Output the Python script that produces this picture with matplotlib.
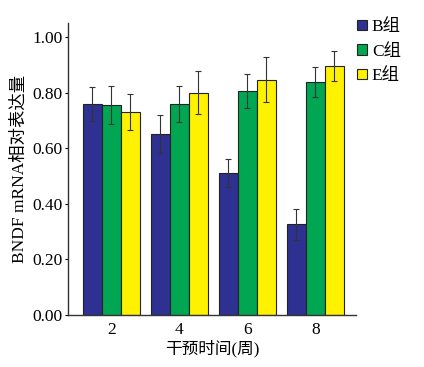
import matplotlib
matplotlib.use("Agg")
import matplotlib.pyplot as plt
import numpy as np
from matplotlib.patches import Patch

plt.rcParams['font.family'] = ['Liberation Serif', 'Noto Sans CJK SC']

weeks = ['2', '4', '6', '8']
groups = ['B组', 'C组', 'E组']
colors = ['#2e3192', '#00a651', '#fff200']
b_vals = [0.759, 0.651, 0.511, 0.326]
c_vals = [0.755, 0.760, 0.805, 0.839]
e_vals = [0.729, 0.800, 0.846, 0.895]
b_err = [0.060, 0.067, 0.051, 0.055]
c_err = [0.068, 0.065, 0.062, 0.054]
e_err = [0.065, 0.077, 0.080, 0.053]

fig = plt.figure(figsize=(4.24, 3.67), dpi=100)
ax = fig.add_axes([68/424, (367-315)/367, (356-68)/424, (315-22.7)/367])

x = np.arange(len(weeks))
w = 0.28
for i, (vals, errs, col) in enumerate(zip([b_vals, c_vals, e_vals], [b_err, c_err, e_err], colors)):
    ax.bar(x + (i-1)*w, vals, w, color=col, edgecolor='#222222', linewidth=0.8,
           yerr=errs, error_kw=dict(ecolor='#333333', elinewidth=0.8, capsize=2.5, capthick=0.8))

ax.set_xlim(-0.64, 3.6)
ax.set_ylim(0, 1.051)
ax.set_xticks(x)
ax.set_xticklabels(weeks)
ax.set_yticks([0, 0.2, 0.4, 0.6, 0.8, 1.0])
ax.set_yticklabels(['0.00', '0.20', '0.40', '0.60', '0.80', '1.00'])
ax.tick_params(axis='x', length=0, labelsize=12.5, pad=5)
ax.tick_params(axis='y', length=2, direction='out', labelsize=12.5, pad=2)
for s in ['top', 'right']:
    ax.spines[s].set_visible(False)
for s in ['left', 'bottom']:
    ax.spines[s].set_color('#333333')
    ax.spines[s].set_linewidth(1.0)
ax.set_xlabel('干预时间(周)', fontsize=12, labelpad=1)
ax.set_ylabel('BNDF mRNA相对表达量', fontsize=12.5, labelpad=3)

handles = [Patch(facecolor=c, edgecolor='#222222', linewidth=0.8) for c in colors]
fig.legend(handles, groups, loc='upper left', bbox_to_anchor=(357/424, 1-19/367),
           frameon=False, fontsize=12.5, handlelength=0.55, handleheight=0.55,
           handletextpad=0.3, labelspacing=0.5, borderaxespad=0, borderpad=0)

fig.savefig('out.png', dpi=100)
